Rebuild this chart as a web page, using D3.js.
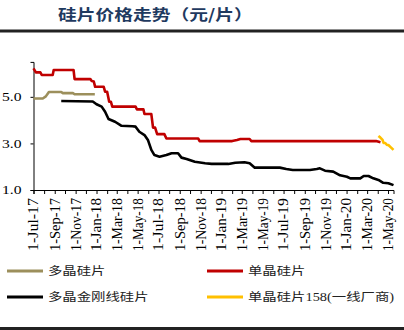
<!DOCTYPE html>
<html><head><meta charset="utf-8">
<script src="https://cdn.jsdelivr.net/npm/d3@7"></script>
<style>html,body{margin:0;padding:0;background:#fff;}svg{display:block;}</style>
</head><body>
<svg id="c" width="404" height="330"></svg>
<script>
const title = "硅片价格走势（元/片）";
const seriesNames = ["多晶硅片", "单晶硅片", "多晶金刚线硅片", "单晶硅片158(一线厂商)"];
const seriesColors = ["#9c8f5c", "#c00000", "#000000", "#ffc000"];
const yTicks = [1.0, 3.0, 5.0];
const xTickLabelDates = ["2017-07-01","2017-09-01","2017-11-01","2018-01-01","2018-03-01","2018-05-01","2018-07-01","2018-09-01","2018-11-01","2019-01-01","2019-03-01","2019-05-01","2019-07-01","2019-09-01","2019-11-01","2020-01-01","2020-03-01","2020-05-01"];

const polyDates = ["2017-07-01","2017-07-28","2017-08-06","2017-08-15","2017-09-20","2017-09-24","2017-10-24","2017-10-29","2017-12-27"];
const polyValues = [4.93,4.93,5.02,5.21,5.21,5.16,5.16,5.11,5.11];

const monoDates = ["2017-07-01","2017-07-08","2017-07-21","2017-07-25","2017-08-26","2017-08-29","2017-10-26","2017-10-29","2017-12-14","2017-12-18","2017-12-24","2017-12-28","2018-01-22","2018-01-26","2018-02-01","2018-02-07","2018-02-12","2018-02-16","2018-04-25","2018-04-29","2018-05-18","2018-05-21","2018-06-10","2018-06-15","2018-06-21","2018-06-27","2018-07-18","2018-07-24","2018-10-25","2018-10-29","2019-02-01","2019-02-15","2019-02-25","2019-03-24","2019-03-29","2020-03-27","2020-04-09"];
const monoValues = [6.22,6.05,6.05,5.94,5.94,6.15,6.15,5.76,5.76,5.68,5.66,5.43,5.43,5.22,5.22,4.79,4.79,4.58,4.58,4.46,4.46,4.26,4.26,3.68,3.68,3.40,3.40,3.21,3.21,3.10,3.10,3.15,3.19,3.19,3.10,3.10,3.05];

const dwDates = ["2017-09-20","2017-12-21","2018-01-01","2018-01-16","2018-01-26","2018-02-05","2018-02-24","2018-03-14","2018-04-16","2018-04-25","2018-05-06","2018-05-21","2018-05-31","2018-06-10","2018-06-19","2018-07-04","2018-07-24","2018-08-08","2018-08-27","2018-09-06","2018-09-21","2018-10-15","2018-11-14","2018-12-03","2019-01-21","2019-02-10","2019-03-09","2019-03-24","2019-04-08","2019-06-20","2019-07-09","2019-07-28","2019-09-16","2019-10-06","2019-10-15","2019-10-30","2019-11-23","2019-12-13","2020-01-02","2020-01-12","2020-02-10","2020-02-20","2020-03-05","2020-03-19","2020-04-03","2020-04-17","2020-05-02","2020-05-17"];
const dwValues = [4.82,4.80,4.68,4.58,4.36,4.05,3.93,3.76,3.74,3.72,3.50,3.36,3.15,2.72,2.50,2.43,2.50,2.58,2.58,2.39,2.33,2.21,2.15,2.12,2.12,2.17,2.19,2.15,1.96,1.96,1.90,1.86,1.86,1.90,1.93,1.83,1.79,1.63,1.57,1.50,1.50,1.60,1.60,1.50,1.43,1.31,1.29,1.21];

const m158Dates = ["2020-04-03","2020-04-08","2020-04-15","2020-04-18","2020-04-23","2020-04-28","2020-05-02","2020-05-10","2020-05-17"];
const m158Values = [3.32,3.26,3.15,3.02,3.02,2.93,2.93,2.82,2.72];

const parse = d3.timeParse("%Y-%m-%d");
const svg = d3.select("#c");
const serif = "'Liberation Serif','Times New Roman','Noto Sans CJK SC',serif";
const cjk = "'Liberation Serif','Noto Sans CJK SC',serif";

// stretch text horizontally like reference
function stretch(sel, k) {
  sel.each(function() {
    const L = this.getComputedTextLength();
    d3.select(this).attr("textLength", L * k).attr("lengthAdjust", "spacingAndGlyphs");
  });
}

// title & rules
svg.append("text").attr("x", 58).attr("y", 20).attr("fill", "#1f3a60")
  .attr("font-family", "'Noto Sans CJK SC',sans-serif").attr("font-weight", "bold")
  .attr("font-size", 15).text(title).call(stretch, 1.25);
svg.append("rect").attr("x", 0).attr("y", 29.5).attr("width", 404).attr("height", 3).attr("fill", "#222");
svg.append("rect").attr("x", 0).attr("y", 327).attr("width", 404).attr("height", 3).attr("fill", "#222");

const x = d3.scaleTime().domain([parse("2017-07-01"), parse("2020-05-17")]).range([33.5, 393.5]);
const y = d3.scaleLinear().domain([1, 6.5]).range([190, 61.9]);

// y axis
const ya = svg.append("g").attr("transform", "translate(33.5,0)")
  .call(d3.axisLeft(y).tickValues(yTicks).tickFormat(d3.format(".1f")).tickSize(3).tickPadding(9));
ya.select(".domain").attr("stroke", "#000");
ya.selectAll(".tick line").attr("stroke", "#000");
ya.selectAll("text").attr("font-family", serif).attr("font-size", 12).attr("fill", "#000").call(stretch, 1.3);

// x axis
const monthTicks = d3.timeMonth.range(parse("2017-07-01"), parse("2020-05-10"));
const xa = svg.append("g").attr("transform", "translate(0,190)")
  .call(d3.axisBottom(x).tickValues(monthTicks).tickSize(4).tickFormat(""));
xa.select(".domain").attr("stroke", "#000");
xa.selectAll(".tick line").attr("stroke", "#000");
const fmt = d3.timeFormat("%-d-%b-%y");
svg.append("g").selectAll("text").data(xTickLabelDates.map(parse)).join("text")
  .attr("transform", d => `translate(${x(d)},198) rotate(-90)`)
  .attr("text-anchor", "end").attr("dy", "0.35em")
  .attr("font-family", serif).attr("font-size", 14).attr("fill", "#000")
  .attr("textLength", 53).attr("lengthAdjust", "spacingAndGlyphs")
  .text(d => fmt(d));

// lines
const series = [
  {dates: polyDates, values: polyValues},
  {dates: monoDates, values: monoValues},
  {dates: dwDates, values: dwValues},
  {dates: m158Dates, values: m158Values}
];
const line = d3.line().x(d => x(d[0])).y(d => y(d[1]));
const order = [0, 2, 1, 3];
order.forEach(i => {
  const s = series[i];
  const pts = s.dates.map((d, j) => [parse(d), s.values[j]]);
  svg.append("path").datum(pts).attr("d", line).attr("fill", "none")
    .attr("stroke", seriesColors[i]).attr("stroke-width", 2.6).attr("stroke-linejoin", "round");
});

// legend
const legPos = [[7, 271], [207, 271], [7, 297], [207, 297]];
seriesNames.forEach((n, i) => {
  const [lx, ly] = legPos[i];
  svg.append("line").attr("x1", lx).attr("x2", lx + 36).attr("y1", ly).attr("y2", ly)
    .attr("stroke", seriesColors[i]).attr("stroke-width", 3);
  svg.append("text").attr("x", lx + 41).attr("y", ly).attr("dy", "0.36em")
    .attr("font-family", cjk).attr("font-size", 11.5).attr("fill", "#222").text(n).call(stretch, 1.25);
});
</script>
</body></html>
